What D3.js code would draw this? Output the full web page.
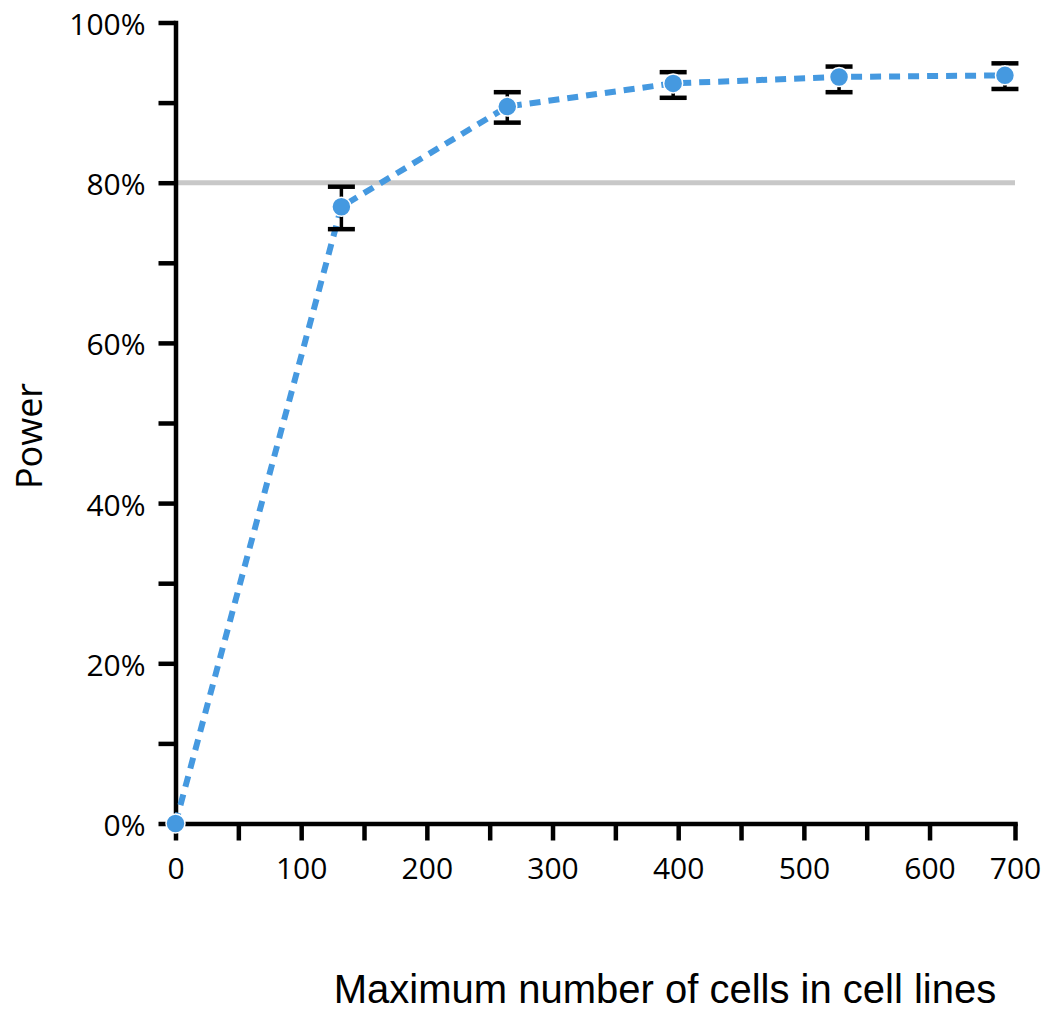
<!doctype html>
<html>
<head>
<meta charset="UTF-8" />
<title>Power</title>
<script src="https://d3js.org/d3.v7.min.js"></script>
<style>
  body { margin: 0; background: #fff; }
</style>
</head>
<body>
<div id="container"></div>
<script>

// data
const cells = [0, 132, 264, 396, 528, 660];
const power = [0, 77.0, 89.5, 92.4, 93.2, 93.4];
const powerLow = [0, 74.2, 87.5, 90.6, 91.3, 91.7];
const powerHigh = [0, 79.5, 91.3, 93.8, 94.5, 94.9];
const threshold = 80;

// axis ticks
const xMax = 668;               // end of the drawn axis, labelled "700" in the original
const xTicks = [0, 50, 100, 150, 200, 250, 300, 350, 400, 450, 500, 550, 600, xMax];
const xTickLabels = {0: "0", 100: "100", 200: "200", 300: "300", 400: "400", 500: "500", 600: "600", [xMax]: "700"};
const yTicks = [0, 10, 20, 30, 40, 50, 60, 70, 80, 90, 100];
const yTickLabels = {0: "0%", 20: "20%", 40: "40%", 60: "60%", 80: "80%", 100: "100%"};

const width = 1043;
const height = 1012;
const marginTop = 22.5;
const marginLeft = 175.5;
const marginRight = 28;
const marginBottom = 188.5;

const tickFont = "'Open Sans', sans-serif";
const blue = "#4599e0";

const x = d3.scaleLinear()
    .domain([0, xMax])
    .range([marginLeft, width - marginRight]);

const y = d3.scaleLinear()
    .domain([0, 100])
    .range([height - marginBottom, marginTop]);

const svg = d3.create("svg")
    .attr("width", width)
    .attr("height", height);

// 80% reference line
svg.append("line")
    .attr("x1", x(0))
    .attr("x2", x(xMax))
    .attr("y1", y(threshold))
    .attr("y2", y(threshold))
    .attr("stroke", "#c8c8c8")
    .attr("stroke-width", 5);

// x axis
const gx = svg.append("g")
    .attr("transform", `translate(0,${y(0)})`)
    .call(d3.axisBottom(x)
        .tickValues(xTicks)
        .tickSize(17)
        .tickSizeOuter(0)
        .tickPadding(13)
        .tickFormat(d => xTickLabels[d] || ""));

// y axis
const gy = svg.append("g")
    .attr("transform", `translate(${x(0)},0)`)
    .call(d3.axisLeft(y)
        .tickValues(yTicks)
        .tickSize(17)
        .tickSizeOuter(0)
        .tickPadding(13)
        .tickFormat(d => yTickLabels[d] || ""));

for (const g of [gx, gy]) {
  g.select(".domain")
      .attr("stroke", "#000")
      .attr("stroke-width", 4.5)
      .attr("stroke-linecap", "square");
  g.selectAll(".tick line")
      .attr("stroke", "#000")
      .attr("stroke-width", 4.5);
  g.selectAll(".tick text")
      .attr("fill", "#000")
      .style("font-family", tickFont)
      .style("font-size", "30px");
}
gx.selectAll(".tick text").attr("dy", "0.85em");
gy.selectAll(".tick text").attr("dy", "0.4em");

// axis titles
svg.append("text")
    .attr("x", 665)
    .attr("y", 1003)
    .attr("text-anchor", "middle")
    .style("font-family", "'Liberation Sans', Arial, sans-serif")
    .style("font-size", "40px")
    .text("Maximum number of cells in cell lines");

svg.append("text")
    .attr("transform", `translate(42,${436}) rotate(-90)`)
    .attr("text-anchor", "middle")
    .style("font-family", tickFont)
    .style("font-size", "36px")
    .text("Power");

const pts = cells.map((c, i) => ({c, p: power[i], lo: powerLow[i], hi: powerHigh[i]}));

// dashed line
svg.append("path")
    .datum(pts)
    .attr("fill", "none")
    .attr("stroke", blue)
    .attr("stroke-width", 6)
    .attr("stroke-dasharray", "11,8")
    .attr("d", d3.line().x(d => x(d.c)).y(d => y(d.p)));

// error bars
const eb = svg.append("g")
    .selectAll("g")
    .data(pts.filter(d => d.hi > d.lo))
    .join("g")
    .attr("stroke", "#000");

eb.append("line")
    .attr("x1", d => x(d.c)).attr("x2", d => x(d.c))
    .attr("y1", d => y(d.hi)).attr("y2", d => y(d.lo))
    .attr("stroke-width", 3.5);
eb.append("line")
    .attr("x1", d => x(d.c) - 13.5).attr("x2", d => x(d.c) + 13.5)
    .attr("y1", d => y(d.hi)).attr("y2", d => y(d.hi))
    .attr("stroke-width", 4.5);
eb.append("line")
    .attr("x1", d => x(d.c) - 13.5).attr("x2", d => x(d.c) + 13.5)
    .attr("y1", d => y(d.lo)).attr("y2", d => y(d.lo))
    .attr("stroke-width", 4.5);

// points
svg.append("g")
    .selectAll("circle")
    .data(pts)
    .join("circle")
    .attr("cx", d => x(d.c))
    .attr("cy", d => y(d.p))
    .attr("r", 9.5)
    .attr("fill", blue)
    .attr("stroke", "#fff")
    .attr("stroke-width", 1.5);

container.append(svg.node());
</script>
</body>
</html>
